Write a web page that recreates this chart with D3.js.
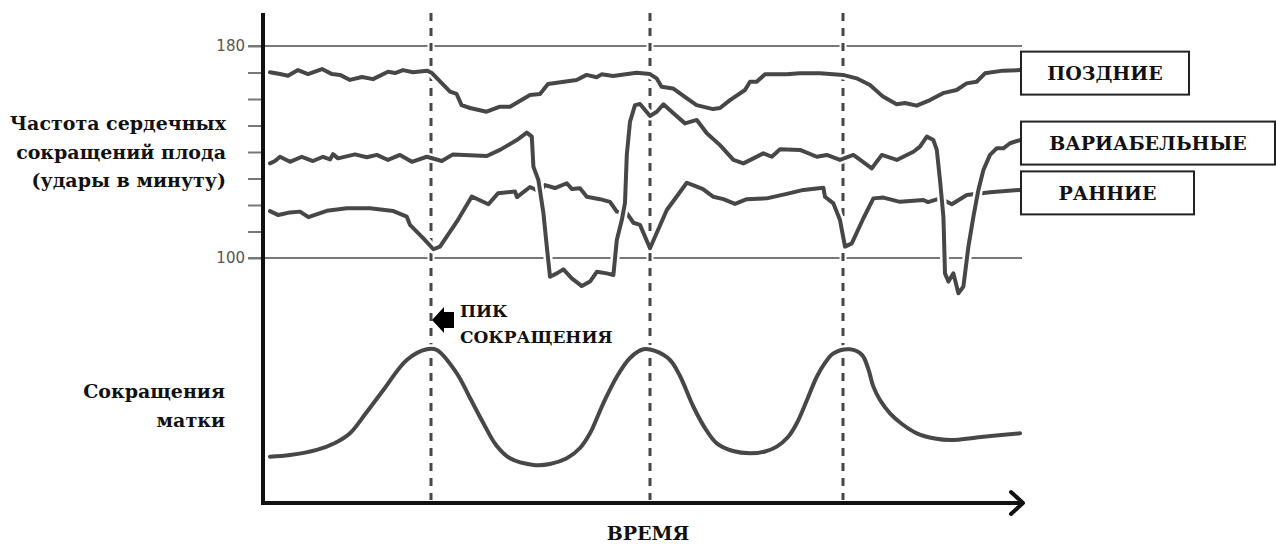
<!DOCTYPE html>
<html lang="ru">
<head>
<meta charset="UTF-8">
<title>ЧСС плода и сокращения матки</title>
<script src="https://d3js.org/d3.v7.min.js"></script>
<style>
  body { margin: 0; background: #fff; }
  text { font-family: "DejaVu Serif", serif; font-weight: bold; fill: #111; }
  .tick text { font-family: "DejaVu Sans", sans-serif; font-weight: normal; fill: #555; font-size: 15px; }
</style>
</head>
<body>
<div id="chart"></div>
<script>
// time in arbitrary units (0..380), heart rate in bpm
var lateTime = [3.5, 8.5, 12.5, 17.5, 22.5, 29.5, 34.5, 38.5, 43.5, 49.5, 55, 62.5, 66, 70, 75, 82, 84.5,
  93.5, 96.8, 99.3, 103.5, 111.8, 118.5, 123.5, 133.5, 138.5, 142.5, 156.8, 161.8, 166.8, 169.3, 175,
  186.8, 193.5, 196.8, 199.3, 205, 211.8, 216.8, 225, 228.5, 233.5, 241, 243.5, 246.8, 251, 261.8,
  268.5, 278.5, 290, 296.8, 303.5, 310, 316.8, 321, 326.8, 333.5, 340, 346.8, 351.8, 356.8, 361, 370, 378.5];
var lateBpm = [170.1, 169.4, 168.8, 170.9, 169.4, 171.3, 169.4, 169.1, 167.2, 168.3, 167.5, 170.3, 169.8, 170.9, 170.1, 170.7, 169.8,
  162.8, 161.9, 157.7, 156.6, 155.2, 157.1, 157.1, 161.5, 161.9, 165.7, 167.2, 169.1, 168.2, 169.3, 168.7,
  169.9, 169.4, 167.8, 164.6, 164.0, 160.3, 157.7, 156.2, 156.6, 159.6, 163.4, 166.5, 166.5, 169.3, 169.3,
  169.7, 169.7, 169.1, 167.8, 165.3, 160.9, 158.0, 158.5, 157.5, 159.6, 162.2, 163.4, 165.9, 166.5, 169.7, 170.7, 170.9];

var variableTime = [3.5, 6, 8.5, 13.5, 19.4, 25, 30, 33.5, 35, 37.5, 46, 51.9, 56.9, 62.5, 68.5, 74.4, 81.9, 89.4, 95,
  111.9, 118.5, 126.9, 131.9, 134.4, 135.2, 137.7, 140.2, 141.9, 143.5, 146.9, 150.2, 154.4, 159.4, 163.5,
  166.9, 171.9, 175.2, 176.9, 179.4, 181, 181.9, 183.5, 186, 188.5, 193.5, 196.9, 200.2, 205.2, 211, 216.9,
  221.9, 228.5, 235.2, 240.2, 245.2, 250.2, 254.4, 258.5, 268.5, 276.9, 281.9, 288.5, 295.2, 304.4, 309.4,
  316.9, 325.2, 328.5, 331.9, 335.2, 336.9, 338.5, 340.2, 341, 342.7, 345.2, 347.7, 350.2, 352.7, 355.2,
  357.7, 360.2, 363.5, 366.9, 370.2, 373.5, 378.5];
var variableBpm = [135.7, 136.6, 138.2, 136.3, 138.2, 136.6, 138.2, 137.2, 139.2, 137.6, 139.1, 138.0, 138.9, 137.0, 138.9, 136.3, 138.2, 136.6, 139.1,
  138.5, 140.8, 144.5, 147.3, 145.8, 134.5, 129.4, 117.0, 104.3, 92.9, 94.2, 95.7, 92.3, 89.4, 91.1,
  94.8, 94.2, 93.6, 106.8, 114.3, 120.8, 138.9, 151.4, 157.7, 158.1, 153.6, 155.2, 158.0, 154.6, 150.8, 152.1,
  147.1, 142.6, 137.0, 135.7, 137.6, 139.5, 138.2, 141.0, 140.8, 138.2, 138.9, 137.0, 138.9, 133.8, 138.9,
  137.0, 140.1, 142.0, 145.8, 144.5, 140.8, 129.4, 115.6, 94.2, 91.1, 94.2, 86.7, 89.2, 104.3, 115.6,
  125.7, 133.2, 138.9, 141.4, 141.4, 143.3, 144.5];

var earlyTime = [3.5, 7.7, 13.5, 18.5, 22.7, 31.9, 41.9, 53.5, 65.2, 71.9, 73.5, 80.2, 85.2, 88.5, 96.9,
  104.4, 112.7, 117.5, 126, 127, 133.5, 138.5, 141, 146, 151.9, 154.5, 158.5, 161.9, 168.5, 173.5,
  176.9, 181.9, 185.2, 188.5, 193.5, 201.9, 211.9, 216.9, 220, 225.2, 230.2, 236, 241.9, 251.9, 261.9,
  270.2, 280.2, 281, 285.2, 288.5, 291, 294.4, 300.2, 305.2, 310.2, 318.5, 330.2, 332.5, 338.5, 344.4,
  351.9, 363.5, 378.5];
var earlyBpm = [117.7, 116.2, 117.2, 117.5, 115.4, 117.8, 118.8, 118.8, 117.7, 115.6, 112.5, 107.4, 103.3, 104.3, 113.7,
  123.2, 120.3, 124.4, 125.1, 123.0, 126.8, 125.0, 127.5, 126.4, 128.2, 126.0, 126.3, 123.1, 122.2, 121.2,
  117.5, 116.9, 113.3, 112.5, 103.7, 118.1, 128.4, 126.9, 126.0, 123.1, 122.2, 120.4, 122.2, 122.5, 124.2,
  125.7, 126.5, 123.1, 120.6, 114.3, 104.3, 105.5, 115.0, 122.5, 122.8, 121.2, 121.9, 121.1, 122.5, 120.3,
  123.8, 124.8, 125.7];

// uterine contraction intensity, relative units 0..100
var contractionTime = [3.5, 13.5, 26.9, 36, 43.5, 51.5, 60.2, 71.9, 81.9, 86.9, 96.9, 103.5, 110.2, 116.5,
  123.5, 135.2, 143.5, 151.9, 158.5, 163.5, 170, 176.9, 183.5, 190.2, 196, 203.5, 208.5, 215.2, 221,
  226.9, 235, 243.5, 251, 256.9, 262.5, 266.9, 272, 276.9, 281, 285.2, 293.5, 299.5, 302.5, 305.2,
  308.5, 313.5, 319.5, 326.9, 336, 343.5, 360.2, 378.5];
var contractionLevel = [22.2, 23.3, 26.7, 31.3, 37.8, 51.3, 66.7, 86.7, 93.8, 93.3, 77.8, 61.3, 44.5, 30,
  21.1, 16.7, 17.3, 21.1, 28, 37.8, 57.3, 75.5, 88, 93.8, 92.7, 86.7, 76, 55.5, 41.3,
  31.1, 26, 24.5, 25.7, 28.9, 35.3, 44.5, 60, 75.5, 84.7, 91.1, 93.8, 90, 81.3, 68.9,
  60, 51.1, 44, 37.8, 34.3, 33.3, 35.5, 37.8];

var peakTimes = [84, 193.5, 290];
var bpmTicks = [100, 110, 120, 130, 140, 150, 160, 170, 180];
var bpmLabels = [100, 180];
var legendNames = ["ПОЗДНИЕ", "ВАРИАБЕЛЬНЫЕ", "РАННИЕ"];

var width = 1276, height = 544;
var lineColor = "#474747";

var svg = d3.select("#chart").append("svg")
    .attr("width", width)
    .attr("height", height);

var x = d3.scaleLinear().domain([0, 380]).range([263, 1023]);
var y = d3.scaleLinear().domain([100, 180]).range([258, 46]);
var yC = d3.scaleLinear().domain([0, 100]).range([490, 340]);

// bpm ticks
svg.append("g")
    .attr("transform", "translate(263,0)")
    .call(d3.axisLeft(y).tickValues(bpmTicks).tickSize(15).tickPadding(3)
        .tickFormat(function(d) { return bpmLabels.indexOf(d) >= 0 ? d : ""; }))
    .call(function(g) {
        g.select(".domain").remove();
        g.selectAll(".tick line").attr("stroke", "#777").attr("stroke-width", 2);
    });

// gridlines at 100 and 180
svg.selectAll(".grid")
    .data(bpmLabels)
    .enter().append("line")
    .attr("x1", 248).attr("x2", 1022)
    .attr("y1", function(d) { return y(d); })
    .attr("y2", function(d) { return y(d); })
    .attr("stroke", "#777")
    .attr("stroke-width", 2);

// dashed lines at contraction peaks
[["#fff", 7], [lineColor, 3]].forEach(function(s) {
    svg.selectAll(".peak" + s[1])
        .data(peakTimes)
        .enter().append("line")
        .attr("x1", function(d) { return x(d); })
        .attr("x2", function(d) { return x(d); })
        .attr("y1", 13).attr("y2", 500)
        .attr("stroke", s[0])
        .attr("stroke-width", s[1])
        .attr("stroke-dasharray", "8,7");
});

function drawSeries(times, vals, yScale, curve) {
    var pts = times.map(function(t, i) { return [t, vals[i]]; });
    var line = d3.line()
        .x(function(d) { return x(d[0]); })
        .y(function(d) { return yScale(d[1]); })
        .curve(curve);
    svg.append("path").datum(pts)
        .attr("d", line).attr("fill", "none")
        .attr("stroke", "#fff").attr("stroke-width", 9)
        .attr("stroke-linejoin", "round");
    svg.append("path").datum(pts)
        .attr("d", line).attr("fill", "none")
        .attr("stroke", lineColor).attr("stroke-width", 4)
        .attr("stroke-linejoin", "round").attr("stroke-linecap", "round");
}

drawSeries(earlyTime, earlyBpm, y, d3.curveLinear);
drawSeries(lateTime, lateBpm, y, d3.curveLinear);
drawSeries(variableTime, variableBpm, y, d3.curveLinear);
drawSeries(contractionTime, contractionLevel, yC, d3.curveCatmullRom.alpha(0.5));

// axes
svg.append("line")
    .attr("x1", 263).attr("x2", 263).attr("y1", 13).attr("y2", 505)
    .attr("stroke", "#111").attr("stroke-width", 4);
svg.append("line")
    .attr("x1", 261).attr("x2", 1022).attr("y1", 503).attr("y2", 503)
    .attr("stroke", "#111").attr("stroke-width", 4);
svg.append("path")
    .attr("d", "M1011,492 L1023,503 L1011,514")
    .attr("fill", "none").attr("stroke", "#111").attr("stroke-width", 4)
    .attr("stroke-linecap", "round").attr("stroke-linejoin", "round");

// legend boxes at line ends
var lastIdx = [lateBpm.length - 1, variableBpm.length - 1, earlyBpm.length - 1];
var legendY = [y(lateBpm[lastIdx[0]]), y(variableBpm[lastIdx[1]]), y(earlyBpm[lastIdx[2]])];
var legendW = [168, 254, 173];
legendNames.forEach(function(name, i) {
    var cy = legendY[i] + 3;
    svg.append("rect")
        .attr("x", 1021).attr("y", cy - 21.5)
        .attr("width", legendW[i]).attr("height", 43)
        .attr("fill", "#fff").attr("stroke", "#222").attr("stroke-width", 2);
    svg.append("text")
        .attr("x", 1021 + legendW[i] / 2).attr("y", cy + 7)
        .attr("text-anchor", "middle")
        .style("font-size", "19px")
        .text(name);
});

// left titles
var fhrTitle = ["Частота сердечных", "сокращений плода", "(удары в минуту)"];
svg.selectAll(".fhrTitle")
    .data(fhrTitle)
    .enter().append("text")
    .attr("x", 226)
    .attr("y", function(d, i) { return 130 + i * 28.5; })
    .attr("text-anchor", "end")
    .style("font-size", "19px")
    .text(function(d) { return d; });

var ucTitle = ["Сокращения", "матки"];
svg.selectAll(".ucTitle")
    .data(ucTitle)
    .enter().append("text")
    .attr("x", 225)
    .attr("y", function(d, i) { return 398 + i * 28.5; })
    .attr("text-anchor", "end")
    .style("font-size", "19px")
    .text(function(d) { return d; });

svg.append("text")
    .attr("x", 648).attr("y", 540)
    .attr("text-anchor", "middle")
    .style("font-size", "19px")
    .text("ВРЕМЯ");

// peak annotation
var px = x(peakTimes[0]);
svg.append("path")
    .attr("d", "M" + (px + 1) + ",320 L" + (px + 13) + ",307 L" + (px + 13) + ",312 L" + (px + 23) + ",312 L" +
        (px + 23) + ",328 L" + (px + 13) + ",328 L" + (px + 13) + ",333 Z")
    .attr("fill", "#000");
svg.append("text")
    .attr("x", 460).attr("y", 317)
    .style("font-size", "17px")
    .text("ПИК");
svg.append("text")
    .attr("x", 460).attr("y", 343)
    .style("font-size", "17px")
    .text("СОКРАЩЕНИЯ");
</script>
</body>
</html>
